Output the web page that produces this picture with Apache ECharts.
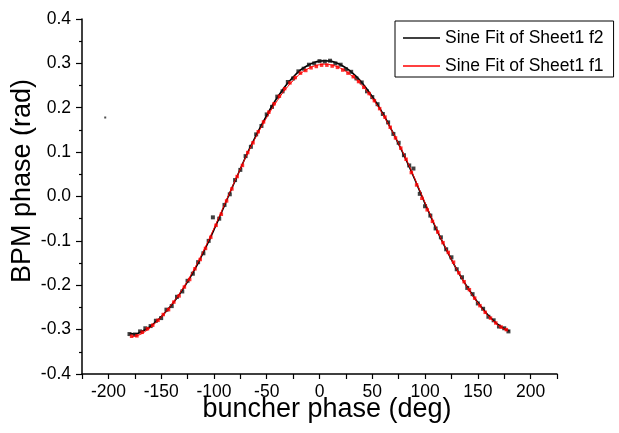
<!DOCTYPE html>
<html>
<head>
<meta charset="utf-8">
<script src="https://cdn.jsdelivr.net/npm/echarts@6/dist/echarts.min.js"></script>
<style>
  html, body { margin: 0; padding: 0; background: #fff; }
  #main { width: 619px; height: 433px; }
</style>
</head>
<body>
<div id="main"></div>
<script>
// stray point outside the sweep (drawn small)
var strayF2 = [[-203, 0.178]];

// measured points, sheet1 f2 (black)
var dataF2 = [
  [-180, -0.310], [-175, -0.311], [-170, -0.304], [-165, -0.297], [-160, -0.292],
  [-155, -0.280], [-150, -0.274], [-145, -0.255], [-140, -0.247], [-135, -0.226],
  [-130, -0.214], [-125, -0.190], [-120, -0.174], [-115, -0.148], [-110, -0.128],
  [-105, -0.100], [-101, -0.047], [-95, -0.050], [-90, -0.019], [-85, 0.005],
  [-80, 0.037], [-75, 0.060], [-70, 0.091], [-65, 0.112], [-60, 0.140],
  [-55, 0.159], [-50, 0.185], [-45, 0.202], [-40, 0.225], [-35, 0.237],
  [-30, 0.258], [-25, 0.266], [-20, 0.282], [-15, 0.288], [-10, 0.297],
  [-5, 0.300], [0, 0.305], [5, 0.304], [10, 0.306], [15, 0.300],
  [20, 0.297], [25, 0.287], [30, 0.281], [35, 0.266], [40, 0.257],
  [45, 0.237], [50, 0.224], [55, 0.208], [60, 0.186], [65, 0.167],
  [70, 0.141], [75, 0.121], [80, 0.093], [85, 0.070], [89, 0.063],
  [95, 0.006], [100, -0.022], [105, -0.043], [110, -0.072], [115, -0.092],
  [120, -0.119], [125, -0.137], [130, -0.164], [135, -0.182], [140, -0.206],
  [145, -0.220], [150, -0.241], [155, -0.253], [160, -0.271], [165, -0.279],
  [170, -0.293], [175, -0.297], [179, -0.304]
];

// measured points, sheet1 f1 (red)
var dataF1 = [
  [-178, -0.315], [-173, -0.314], [-168, -0.306], [-163, -0.298], [-158, -0.290],
  [-153, -0.279], [-148, -0.266], [-143, -0.255], [-138, -0.238], [-133, -0.224],
  [-128, -0.204], [-123, -0.187], [-118, -0.163], [-113, -0.142], [-108, -0.117],
  [-103, -0.092], [-98, -0.065], [-93, -0.040], [-88, -0.010], [-83, 0.017],
  [-78, 0.045], [-73, 0.070], [-68, 0.099], [-63, 0.121], [-58, 0.146],
  [-53, 0.168], [-48, 0.190], [-43, 0.209], [-38, 0.226], [-33, 0.243],
  [-28, 0.256], [-23, 0.268], [-18, 0.278], [-13, 0.284], [-8, 0.290],
  [-3, 0.293], [2, 0.296], [7, 0.296], [12, 0.294], [17, 0.291],
  [22, 0.285], [27, 0.278], [32, 0.270], [37, 0.259], [42, 0.246],
  [47, 0.232], [52, 0.216], [57, 0.198], [62, 0.179], [67, 0.156],
  [72, 0.132], [77, 0.109], [82, 0.084], [87, 0.054], [92, 0.026],
  [97, -0.004], [102, -0.030], [107, -0.056], [112, -0.080], [117, -0.104],
  [122, -0.126], [127, -0.148], [132, -0.172], [137, -0.192], [142, -0.210],
  [147, -0.229], [152, -0.246], [157, -0.261], [162, -0.274], [167, -0.285],
  [172, -0.294], [177, -0.300]
];

// fitted curves
var fitF2 = [
  [-180, -0.309], [-175, -0.310], [-170, -0.306], [-165, -0.300], [-160, -0.292],
  [-155, -0.282], [-150, -0.271], [-145, -0.258], [-140, -0.244], [-135, -0.228],
  [-130, -0.211], [-125, -0.192], [-120, -0.172], [-115, -0.150], [-110, -0.126],
  [-105, -0.101], [-100, -0.075], [-95, -0.048], [-90, -0.020], [-85, 0.008],
  [-80, 0.035], [-75, 0.062], [-70, 0.089], [-65, 0.114], [-60, 0.138],
  [-55, 0.161], [-50, 0.183], [-45, 0.204], [-40, 0.223], [-35, 0.240],
  [-30, 0.256], [-25, 0.269], [-20, 0.281], [-15, 0.290], [-10, 0.297],
  [-5, 0.302], [0, 0.305], [5, 0.306], [10, 0.305], [15, 0.302],
  [20, 0.297], [25, 0.290], [30, 0.281], [35, 0.270], [40, 0.257],
  [45, 0.242], [50, 0.225], [55, 0.207], [60, 0.187], [65, 0.165],
  [70, 0.142], [75, 0.118], [80, 0.093], [85, 0.067], [90, 0.040],
  [95, 0.012], [100, -0.016], [105, -0.043], [110, -0.070], [115, -0.095],
  [120, -0.119], [125, -0.142], [130, -0.164], [135, -0.185], [140, -0.204],
  [145, -0.222], [150, -0.239], [155, -0.254], [160, -0.268], [165, -0.280],
  [170, -0.290], [175, -0.298], [180, -0.303]
];

var fitF1 = [
  [-178, -0.316], [-175, -0.315], [-170, -0.311], [-165, -0.304], [-160, -0.295],
  [-155, -0.284], [-150, -0.272], [-145, -0.258], [-140, -0.243], [-135, -0.227],
  [-130, -0.209], [-125, -0.190], [-120, -0.169], [-115, -0.147], [-110, -0.123],
  [-105, -0.098], [-100, -0.072], [-95, -0.045], [-90, -0.018], [-85, 0.009],
  [-80, 0.036], [-75, 0.062], [-70, 0.088], [-65, 0.112], [-60, 0.135],
  [-55, 0.157], [-50, 0.178], [-45, 0.198], [-40, 0.216], [-35, 0.233],
  [-30, 0.248], [-25, 0.261], [-20, 0.273], [-15, 0.282], [-10, 0.289],
  [-5, 0.294], [0, 0.297], [5, 0.298], [10, 0.297], [15, 0.294],
  [20, 0.289], [25, 0.282], [30, 0.273], [35, 0.263], [40, 0.251],
  [45, 0.237], [50, 0.221], [55, 0.204], [60, 0.185], [65, 0.164],
  [70, 0.142], [75, 0.119], [80, 0.095], [85, 0.069], [90, 0.042],
  [95, 0.014], [100, -0.014], [105, -0.041], [110, -0.068], [115, -0.094],
  [120, -0.118], [125, -0.142], [130, -0.164], [135, -0.185], [140, -0.205],
  [145, -0.223], [150, -0.240], [155, -0.256], [160, -0.270], [165, -0.282],
  [170, -0.292], [175, -0.299], [178, -0.302]
];

var legendNames = ['Sine Fit of Sheet1 f2', 'Sine Fit of Sheet1 f1'];
var xTitle = 'buncher phase (deg)';
var yTitle = 'BPM phase (rad)';

var font = "'Liberation Sans', Arial, sans-serif";
var myChart = echarts.init(document.getElementById('main'));

var option = {
  animation: false,
  backgroundColor: '#fff',
  grid: { left: 82, right: 62, top: 19, bottom: 59, outerBoundsMode: 'none' },
  legend: {
    data: legendNames,
    orient: 'vertical',
    left: 395,
    top: 21,
    icon: 'rect',
    itemWidth: 37,
    itemHeight: 1.5,
    itemGap: 10,
    padding: [8, 10, 2, 8],
    borderColor: '#000',
    borderWidth: 1,
    textStyle: { color: '#000', fontSize: 17.5, lineHeight: 17, fontFamily: font }
  },
  xAxis: {
    type: 'value',
    min: -225,
    max: 225,
    interval: 25,
    splitLine: { show: false },
    axisLine: { onZero: false, lineStyle: { color: '#000', width: 1.5 } },
    axisTick: { length: 5, lineStyle: { color: '#000', width: 1.2 } },
    axisLabel: {
      margin: 9,
      color: '#000',
      fontSize: 17.5,
      fontFamily: font,
      formatter: function (v) { return v % 50 === 0 ? String(v) : ''; }
    }
  },
  yAxis: {
    type: 'value',
    min: -0.4,
    max: 0.4,
    interval: 0.1,
    splitLine: { show: false },
    axisLine: { show: true, onZero: false, lineStyle: { color: '#000', width: 1.5 } },
    axisTick: { show: true, length: 6, lineStyle: { color: '#000', width: 1.2 } },
    minorTick: { show: true, splitNumber: 2, length: 3, lineStyle: { color: '#000', width: 1.2 } },
    axisLabel: {
      margin: 11,
      color: '#000',
      fontSize: 17.5,
      fontFamily: font,
      formatter: function (v) { return (Math.round(v * 10) / 10).toFixed(1); }
    }
  },
  graphic: [
    {
      type: 'text',
      x: 327,
      y: 410,
      style: {
        text: xTitle, fill: '#000', fontSize: 27, fontFamily: font,
        align: 'center', verticalAlign: 'middle'
      }
    },
    {
      type: 'text',
      x: 23,
      y: 181,
      rotation: Math.PI / 2,
      style: {
        text: yTitle, fill: '#000', fontSize: 27, fontFamily: font,
        align: 'center', verticalAlign: 'middle'
      }
    }
  ],
  series: [
    {
      name: legendNames[0],
      type: 'line',
      data: fitF2,
      showSymbol: false,
      smooth: true,
      color: '#000',
      lineStyle: { color: '#000', width: 1.6 },
      z: 2
    },
    {
      name: 'data f2',
      type: 'scatter',
      data: dataF2,
      symbol: 'rect',
      symbolSize: 4,
      itemStyle: { color: '#111' },
      z: 3
    },
    {
      name: 'stray f2',
      type: 'scatter',
      data: strayF2,
      symbol: 'rect',
      symbolSize: 2,
      itemStyle: { color: '#222' },
      z: 3
    },
    {
      name: 'data f1',
      type: 'scatter',
      data: dataF1,
      symbol: 'rect',
      symbolSize: 3.5,
      itemStyle: { color: '#ff0000' },
      z: 4
    },
    {
      name: legendNames[1],
      type: 'line',
      data: fitF1,
      showSymbol: false,
      smooth: true,
      color: '#ff0000',
      lineStyle: { color: '#ff0000', width: 1 },
      z: 5
    }
  ]
};

myChart.setOption(option);
</script>
</body>
</html>
